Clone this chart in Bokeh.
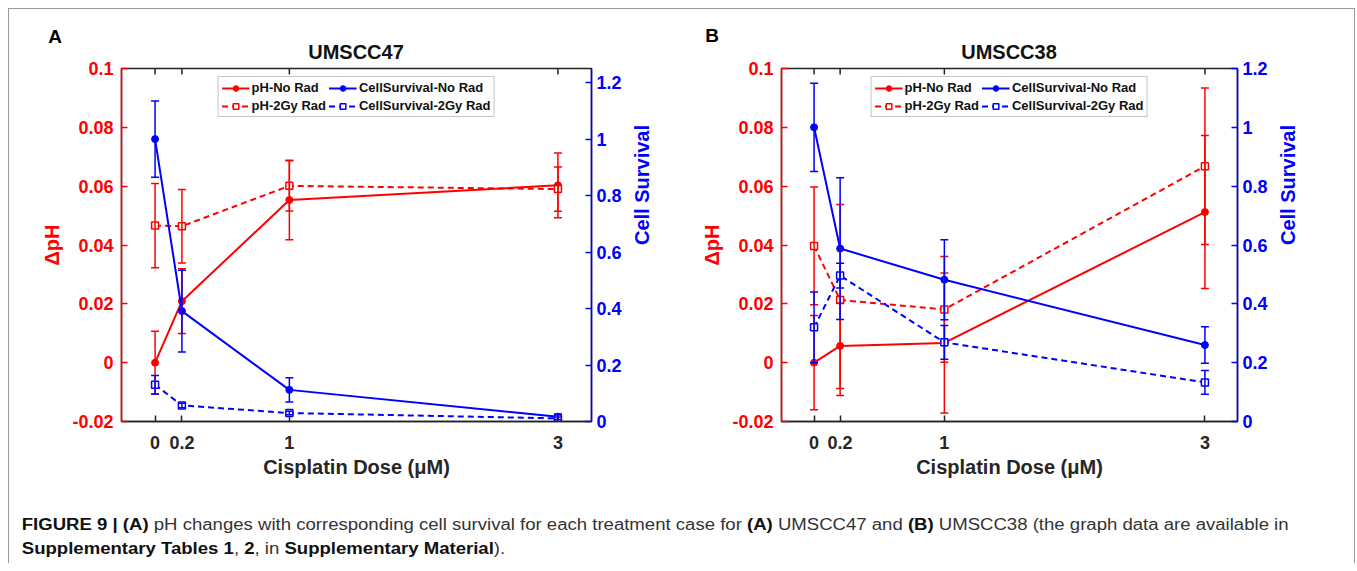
import math
from bokeh.plotting import figure
from bokeh.models import (Range1d, LinearAxis, FixedTicker, Whisker, TeeHead,
                          ColumnDataSource, Legend, LegendItem, Div)
from bokeh.layouts import row, column
from bokeh.embed import file_html
from bokeh.resources import INLINE

# ---------------- data ----------------
doses = [0, 0.2, 1, 3]
dose_labels = ["0", "0.2", "1", "3"]
ph_ticks = [-0.02, 0, 0.02, 0.04, 0.06, 0.08, 0.1]
ph_tick_labels = ["-0.02", "0", "0.02", "0.04", "0.06", "0.08", "0.1"]
cs_ticks = [0, 0.2, 0.4, 0.6, 0.8, 1.0, 1.2]
cs_tick_labels = ["0", "0.2", "0.4", "0.6", "0.8", "1", "1.2"]

series_names = ["pH-No Rad", "pH-2Gy Rad", "CellSurvival-No Rad", "CellSurvival-2Gy Rad"]

# UMSCC47 (panel A)
a_ph_norad = [0.0, 0.0209, 0.0553, 0.0603]
a_ph_norad_err = [0.0107, 0.0110, 0.0135, 0.0110]
a_ph_2gy = [0.0466, 0.0464, 0.0601, 0.0590]
a_ph_2gy_err = [0.0143, 0.0125, 0.0085, 0.0075]
a_cs_norad = [1.0, 0.391, 0.112, 0.017]
a_cs_norad_err = [0.135, 0.145, 0.043, 0.010]
a_cs_2gy = [0.130, 0.057, 0.030, 0.011]
a_cs_2gy_err = [0.033, 0.008, 0.006, 0.005]

# UMSCC38 (panel B)
b_ph_norad = [0.0, 0.0057, 0.0067, 0.0512]
b_ph_norad_err = [0.0160, 0.0145, 0.0238, 0.0260]
b_ph_2gy = [0.0397, 0.0213, 0.0181, 0.0668]
b_ph_2gy_err = [0.0200, 0.0325, 0.0180, 0.0266]
b_cs_norad = [1.0, 0.588, 0.482, 0.260]
b_cs_norad_err = [0.150, 0.241, 0.136, 0.062]
b_cs_2gy = [0.320, 0.496, 0.269, 0.133]
b_cs_2gy_err = [0.120, 0.042, 0.057, 0.040]

RED = "#ff0000"
BLUE = "#0000ff"
DARK = "#262626"
FONT = "Liberation Sans"


def src(vals, errs):
    return ColumnDataSource(dict(
        x=doses, y=vals,
        upper=[v + e for v, e in zip(vals, errs)],
        lower=[v - e for v, e in zip(vals, errs)]))


def add_series(p, vals, errs, color, dashed, range_name):
    s = src(vals, errs)
    kw = {} if range_name is None else {"y_range_name": range_name}
    ln = p.line("x", "y", source=s, line_color=color, line_width=2,
                line_dash="6 4" if dashed else "solid", **kw)
    if dashed:
        mk = p.scatter("x", "y", source=s, marker="square", size=7,
                       fill_color="white", line_color=color, line_width=1.5, **kw)
    else:
        mk = p.scatter("x", "y", source=s, marker="circle", size=7,
                       fill_color=color, line_color=color, **kw)
    w = Whisker(base="x", upper="upper", lower="lower", source=s, dimension="height",
                line_color=color, line_width=1.5, level="glyph",
                upper_head=TeeHead(size=8, line_color=color, line_width=1.5),
                lower_head=TeeHead(size=8, line_color=color, line_width=1.5), **kw)
    p.add_layout(w)
    return [ln, mk]


def style_axis(ax, color, size="18px"):
    ax.axis_line_color = color
    ax.axis_line_width = 1.5
    ax.major_tick_line_color = color
    ax.major_tick_line_width = 1.5
    ax.major_tick_in = 6
    ax.major_tick_out = 0
    ax.minor_tick_line_color = None
    ax.major_label_text_color = color
    ax.major_label_text_font = FONT
    ax.major_label_text_font_style = "bold"
    ax.major_label_text_font_size = size
    ax.axis_label_text_color = color
    ax.axis_label_text_font = FONT
    ax.axis_label_text_font_style = "bold"
    ax.axis_label_text_font_size = "20px"


def make_panel(ph1, ph1e, ph2, ph2e, cs1, cs1e, cs2, cs2e,
               width, mb_left, mb_right, cs_max):
    p = figure(width=width, height=435, x_range=Range1d(-0.25, 3.25),
               y_range=Range1d(ph_ticks[0], ph_ticks[-1]), output_backend="svg",
               toolbar_location=None, min_border_left=mb_left,
               min_border_right=mb_right, min_border_top=12, min_border_bottom=70)
    p.extra_y_ranges = {"cs": Range1d(0, cs_max)}
    p.xgrid.visible = False
    p.ygrid.visible = False
    p.outline_line_color = "#222222"
    p.outline_line_width = 1.5
    p.background_fill_color = "white"
    p.border_fill_color = None

    xa = p.xaxis[0]
    xa.ticker = FixedTicker(ticks=doses)
    xa.major_label_overrides = dict(zip(doses, dose_labels))
    style_axis(xa, DARK)
    xa.axis_line_color = "#222222"
    xa.major_tick_line_color = "#222222"
    xa.axis_label = "Cisplatin Dose (μM)"
    xa.major_label_standoff = 14
    xa.axis_label_standoff = 4

    ya = p.yaxis[0]
    ya.ticker = FixedTicker(ticks=ph_ticks)
    ya.major_label_overrides = dict(zip(ph_ticks, ph_tick_labels))
    style_axis(ya, RED)
    ya.axis_label = "ΔpH"
    ya.major_label_standoff = 8
    ya.axis_label_standoff = 6

    ra = LinearAxis(y_range_name="cs", ticker=FixedTicker(ticks=cs_ticks))
    ra.major_label_overrides = dict(zip(cs_ticks, cs_tick_labels))
    style_axis(ra, BLUE)
    ra.major_label_standoff = 5
    ra.axis_label = "Cell Survival"
    ra.axis_label_orientation = math.pi / 2
    ra.axis_label_standoff = 17
    p.add_layout(ra, "right")

    # inward ticks on the top edge of the box
    p.scatter(x=doses, y=[ph_ticks[-1]] * len(doses), marker="dash", angle=math.pi / 2,
              size=12, line_color="#222222", line_width=1.5)

    r_ph1 = add_series(p, ph1, ph1e, RED, False, None)
    r_ph2 = add_series(p, ph2, ph2e, RED, True, None)
    r_cs1 = add_series(p, cs1, cs1e, BLUE, False, "cs")
    r_cs2 = add_series(p, cs2, cs2e, BLUE, True, "cs")

    items = [LegendItem(label=series_names[0], renderers=r_ph1),
             LegendItem(label=series_names[1], renderers=r_ph2),
             LegendItem(label=series_names[2], renderers=r_cs1),
             LegendItem(label=series_names[3], renderers=r_cs2)]
    leg = Legend(items=items, ncols=2, location="top_center",
                 border_line_color="#8c8c8c", border_line_width=1.5,
                 background_fill_color="white", background_fill_alpha=1,
                 label_text_font=FONT, label_text_font_style="bold",
                 label_text_font_size="13px", label_text_color="#111111",
                 glyph_width=28, glyph_height=14, label_height=14,
                 label_standoff=2, spacing=3, padding=3, margin=8)
    p.add_layout(leg)
    return p


def header(letter, letter_xy, title, title_xy, width):
    html = (
        f'<div style="position:relative; width:{width}px; height:47px; overflow:visible; '
        f'font-family:\'Liberation Sans\', Arial, sans-serif; font-weight:bold;">'
        f'<span style="position:absolute; left:{letter_xy[0]}px; top:{letter_xy[1]}px; '
        f'transform:translate(-50%,-50%); font-size:19px; line-height:1; color:#000;">{letter}</span>'
        f'<span style="position:absolute; left:{title_xy[0]}px; top:{title_xy[1]}px; '
        f'transform:translate(-50%,-50%); font-size:20px; line-height:1; color:#111; '
        f'white-space:nowrap;">{title}</span></div>'
    )
    return Div(text=html, width=width, height=47, margin=0,
               styles={"overflow": "visible", "z-index": "5", "position": "relative"})


pA = make_panel(a_ph_norad, a_ph_norad_err, a_ph_2gy, a_ph_2gy_err,
                a_cs_norad, a_cs_norad_err, a_cs_2gy, a_cs_2gy_err,
                width=672, mb_left=112, mb_right=90, cs_max=1.25)
pB = make_panel(b_ph_norad, b_ph_norad_err, b_ph_2gy, b_ph_2gy_err,
                b_cs_norad, b_cs_norad_err, b_cs_2gy, b_cs_2gy_err,
                width=673, mb_left=100, mb_right=117, cs_max=1.2)

hA = header("A", (46, 27), "UMSCC47", (347, 43), 672)
hB = header("B", (31, 26), "UMSCC38", (328, 43), 673)

caption_html = (
    '<div style="font-family: \'Liberation Sans\', Arial, sans-serif; font-size: 16px; '
    'line-height: 24px; color: #333333; padding: 22px 0 0 11px; white-space: nowrap; '
    'transform: scaleX(1.16); transform-origin: 0 0;">'
    '<b style="color:#111">FIGURE 9 | (A)</b> pH changes with corresponding cell survival for each '
    'treatment case for <b style="color:#111">(A)</b> UMSCC47 and <b style="color:#111">(B)</b> '
    'UMSCC38 (the graph data are available in<br>'
    '<b style="color:#111">Supplementary Tables 1</b>, <b style="color:#111">2</b>, in '
    '<b style="color:#111">Supplementary Material</b>).</div>'
)
caption = Div(text=caption_html, width=1345, height=72, margin=0)

layout = column(row(column(hA, pA), column(hB, pB)), caption, margin=(8, 0, 0, 8),
                styles={"border-left": "1px solid #9a9a9a", "border-top": "1px solid #9a9a9a",
                        "border-right": "1px solid #9a9a9a", "background": "white"})

open("out.html", "w").write(file_html(layout, INLINE))
